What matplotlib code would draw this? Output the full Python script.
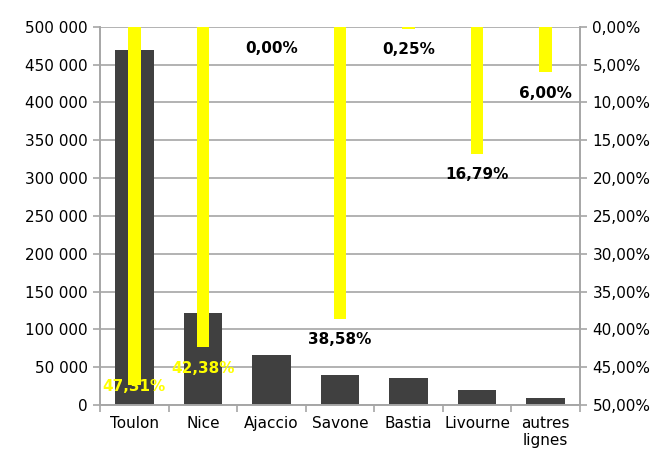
import matplotlib
matplotlib.use("Agg")
import matplotlib.pyplot as plt
from matplotlib.ticker import FuncFormatter, MultipleLocator
import numpy as np

categories = ["Toulon", "Nice", "Ajaccio", "Savone", "Bastia", "Livourne", "autres\nlignes"]
volumes = [470000, 122000, 66000, 40000, 36000, 20000, 9000]
parts = [47.31, 42.38, 0.00, 38.58, 0.25, 16.79, 6.00]
label_colors = ["#FFFF00", "#FFFF00", "black", "black", "black", "black", "black"]

plt.rcParams['font.family'] = ['DejaVu Sans']
fig = plt.figure(figsize=(6.59, 4.55), dpi=100)
ax = fig.add_axes([0.152, 0.110, 0.728, 0.831])
ax2 = ax.twinx()

x = np.arange(len(categories))
grid_c = "#A6A6A6"

ax.bar(x, volumes, width=0.56, color="#404040", zorder=2)
ax.set_xlim(-0.5, len(categories) - 0.5)
ax.set_ylim(0, 500000)
ax.yaxis.set_major_locator(MultipleLocator(50000))
ax.yaxis.set_major_formatter(FuncFormatter(lambda v, p: f"{int(v):,}".replace(",", " ")))
ax.grid(axis="y", color=grid_c, linewidth=1.2, zorder=0)
ax.set_axisbelow(True)

ax.set_xticks(x)
ax.set_xticklabels(categories, fontsize=11)
ax.set_xticks(np.arange(-0.5, len(categories), 1), minor=True)
ax.tick_params(axis="x", which="major", length=0, pad=8)
ax.tick_params(axis="x", which="minor", length=5, color=grid_c, width=1.2)
ax.tick_params(axis="y", length=5, color=grid_c, width=1.2, labelsize=11, pad=4)

ax2.bar(x, parts, width=0.18, color="#FFFF00", zorder=3)
ax2.set_ylim(50, 0)
ax2.yaxis.set_major_locator(MultipleLocator(5))
ax2.yaxis.set_major_formatter(FuncFormatter(lambda v, p: f"{v:.2f}%".replace(".", ",")))
ax2.tick_params(axis="y", length=5, color=grid_c, width=1.2, labelsize=11, pad=4)

for a in (ax, ax2):
    a.spines["top"].set_visible(False)
    for s in ("left", "right", "bottom"):
        a.spines[s].set_color(grid_c)
        a.spines[s].set_linewidth(1.2)

for xi, v, c in zip(x, parts, label_colors):
    yl = min(v + 2.8, 47.6)
    ax2.text(xi, yl, f"{v:.2f}%".replace(".", ","), ha="center", va="center",
             fontsize=11, fontweight="bold", color=c, zorder=5)

fig.savefig("out.png", dpi=100)
